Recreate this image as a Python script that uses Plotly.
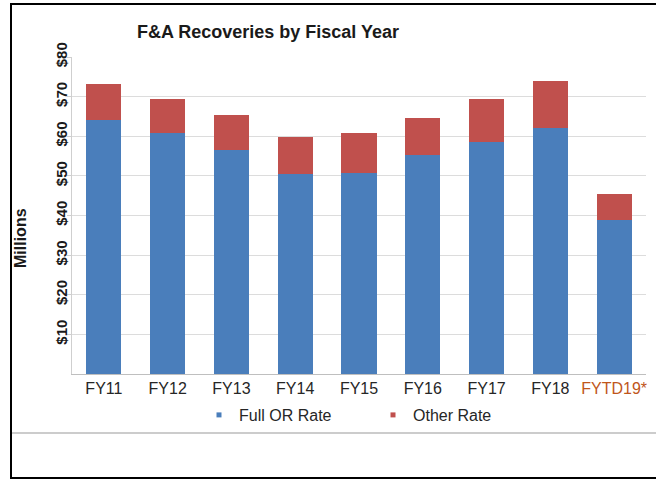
import plotly.graph_objects as go

categories = ["FY11", "FY12", "FY13", "FY14", "FY15", "FY16", "FY17", "FY18", "FYTD19*"]
full_or_rate = [64.1, 60.9, 56.6, 50.5, 50.8, 55.3, 58.6, 62.1, 38.9]
other_rate = [9.1, 8.5, 8.8, 9.3, 10.1, 9.3, 10.8, 11.9, 6.6]
tick_vals = [10, 20, 30, 40, 50, 60, 70, 80]
tick_text = ["$10", "$20", "$30", "$40", "$50", "$60", "$70", "$80"]

BLUE = "#4a7ebb"
RED = "#c0504d"
ORANGE = "#c0561b"

W, H = 656, 483
L, R, T, B = 72, 10, 57, 109
pw, ph = W - L - R, H - T - B


def px_x(x):
    return (x - L) / pw


def px_y(y):
    return (H - B - y) / ph


xlabels = [f'<span style="color:{ORANGE}">{c}</span>' if c.startswith("FYTD") else c for c in categories]
ylabels = [f"<b>{t}</b>" for t in tick_text]

fig = go.Figure()
fig.add_trace(go.Bar(x=categories, y=full_or_rate, name="Full OR Rate", marker_color=BLUE,
                     marker_line_width=0, showlegend=False))
fig.add_trace(go.Bar(x=categories, y=other_rate, name="Other Rate", marker_color=RED,
                     marker_line_width=0, showlegend=False))
# legend-only entries with small square markers
fig.add_trace(go.Scatter(x=[None], y=[None], mode="markers", name="Full OR Rate",
                         marker=dict(symbol="square", size=5, color=BLUE)))
fig.add_trace(go.Scatter(x=[None], y=[None], mode="markers", name="Other Rate",
                         marker=dict(symbol="square", size=5, color=RED)))

fig.update_layout(
    width=W, height=H,
    margin=dict(l=L, r=R, t=T, b=B),
    barmode="stack", bargap=0.45,
    plot_bgcolor="white", paper_bgcolor="white",
    font=dict(family="Liberation Sans, Arial, sans-serif", color="#404040"),
    title=dict(text="<b>F&A Recoveries by Fiscal Year</b>", x=268 / W, xanchor="center",
               y=1 - 32 / H, yanchor="middle", yref="container",
               font=dict(size=18, color="#1a1a1a")),
    legend=dict(orientation="h", traceorder="normal", x=px_x(199), xanchor="left",
                y=px_y(415), yanchor="middle", entrywidth=129, entrywidthmode="pixels",
                font=dict(size=16, color="#262626"), itemwidth=30, bgcolor="rgba(0,0,0,0)"),
    xaxis=dict(tickmode="array", tickvals=categories, ticktext=xlabels,
               tickfont=dict(size=16, color="#262626"), showline=True, linecolor="#bfbfbf",
               ticks="", showgrid=False, fixedrange=True),
    yaxis=dict(range=[0, 80], tickvals=tick_vals, ticktext=ylabels, tickangle=-90,
               tickfont=dict(size=15, color="#1a1a1a"), ticklabelstandoff=-6,
               showgrid=True, gridcolor="#dcdcdc", showline=True, linecolor="#cfcfcf",
               ticks="outside", ticklen=4, tickcolor="#cfcfcf", zeroline=False),
    annotations=[dict(text="<b>Millions</b>", textangle=-90, x=px_x(20), y=px_y(238),
                      xref="paper", yref="paper", xanchor="center", yanchor="middle",
                      showarrow=False, font=dict(size=16, color="#1a1a1a"))],
    shapes=[
        dict(type="line", xref="paper", yref="paper", x0=px_x(12), x1=px_x(660),
             y0=px_y(433), y1=px_y(433), line=dict(color="#cccccc", width=2)),
        dict(type="rect", xref="paper", yref="paper", x0=px_x(11), x1=px_x(670),
             y0=px_y(478), y1=px_y(4), line=dict(color="black", width=2)),
    ],
)

fig.write_html("out.html", config={"displayModeBar": False})

with open("out.html", "r", encoding="utf-8") as f:
    html = f.read()
html = html.replace("<head>", "<head><style>html,body{margin:0;padding:0;overflow:hidden;}</style>", 1)
with open("out.html", "w", encoding="utf-8") as f:
    f.write(html)
